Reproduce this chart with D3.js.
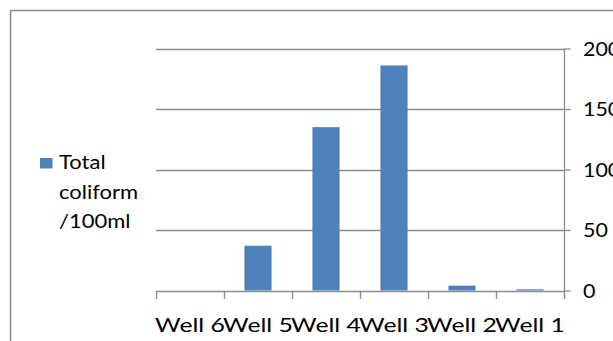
<!DOCTYPE html>
<html>
<head>
<meta charset="utf-8">
<script src="https://cdn.jsdelivr.net/npm/d3@7"></script>
<style>
  html, body { margin: 0; padding: 0; background: #fff; overflow: hidden; }
  svg { display: block; }
  text { font-family: Lato, "Open Sans", sans-serif; fill: #000; }
</style>
</head>
<body>
<svg id="chart" width="613" height="341"></svg>
<script>
// Total coliform counts per well
const categories = ["Well 6", "Well 5", "Well 4", "Well 3", "Well 2", "Well 1"];
const coliform = [0, 37, 135, 186, 4, 1];
const yTicks = [0, 50, 100, 150, 200];
const seriesName = ["Total", "coliform", "/100ml"];

const W = 613, H = 341;
const plot = { left: 156, right: 564, top: 48.5, bottom: 290.5 };
const SX_CAT = 1.24;      // horizontal stretch for category labels
const SX_TXT = 1.1;       // horizontal stretch for other text
const gray = "#8b8b8b";
const barColor = "#4f81bd";

const svg = d3.select("#chart");

// chart area frame (top and left edges)
svg.append("path")
  .attr("d", `M10.5,${H} V10.5 H${W}`)
  .attr("fill", "none")
  .attr("stroke", gray)
  .attr("stroke-width", 1.5);

const x = d3.scaleBand()
  .domain(categories)
  .range([plot.left, plot.right])
  .paddingInner(0.6)
  .paddingOuter(0.3);

const y = d3.scaleLinear()
  .domain([0, 200])
  .range([plot.bottom, plot.top]);

// horizontal gridlines
svg.append("g")
  .selectAll("line")
  .data(yTicks)
  .join("line")
  .attr("x1", plot.left)
  .attr("x2", plot.right)
  .attr("y1", d => Math.round(y(d)) + 0.5)
  .attr("y2", d => Math.round(y(d)) + 0.5)
  .attr("stroke", gray)
  .attr("stroke-width", 1.3);

// bars
svg.append("g")
  .selectAll("rect")
  .data(categories.map((c, i) => ({ c, v: coliform[i] })))
  .join("rect")
  .attr("x", d => x(d.c))
  .attr("width", x.bandwidth())
  .attr("y", d => y(d.v))
  .attr("height", d => y(0) - y(d.v))
  .attr("fill", barColor);

// value axis on the right
const yAxis = svg.append("g")
  .attr("transform", `translate(${plot.right + 0.5},0)`)
  .call(d3.axisRight(y).tickValues(yTicks).tickSize(6).tickSizeOuter(0));
yAxis.select(".domain").attr("stroke", gray).attr("stroke-width", 1.3)
  .attr("d", `M0,${plot.top} V${plot.bottom + 8}`);
yAxis.selectAll(".tick line").attr("stroke", gray).attr("stroke-width", 1.3).attr("x1", 0);
yAxis.selectAll(".tick text")
  .attr("x", 18.5 / SX_TXT)
  .attr("dy", "0.35em")
  .attr("transform", `scale(${SX_TXT},1)`)
  .style("font-size", "19.5px")
  .style("font-family", "Lato, 'Open Sans', sans-serif")
  .attr("fill", "#000");

// category axis: boundary ticks
const x0 = x.range()[0];
const boundaries = d3.range(categories.length + 1).map(i => x0 + i * x.step());
svg.append("g")
  .selectAll("line")
  .data(boundaries)
  .join("line")
  .attr("x1", d => Math.round(d) + 0.5)
  .attr("x2", d => Math.round(d) + 0.5)
  .attr("y1", Math.round(y(0)))
  .attr("y2", Math.round(y(0)) + 8)
  .attr("stroke", gray)
  .attr("stroke-width", 1.3);

// category labels
const xAxis = svg.append("g")
  .attr("transform", `translate(0,${plot.bottom})`)
  .call(d3.axisBottom(x).tickSize(0).tickPadding(0));
xAxis.select(".domain").remove();
xAxis.selectAll(".tick text")
  .attr("y", 0)
  .attr("dy", 0)
  .attr("transform", `translate(0,${332 - plot.bottom}) scale(${SX_CAT},1)`)
  .style("font-size", "20px")
  .style("font-family", "Lato, 'Open Sans', sans-serif")
  .attr("fill", "#000");

// legend
const legend = svg.append("g");
legend.append("rect")
  .attr("x", 40).attr("y", 158)
  .attr("width", 12.5).attr("height", 10.5)
  .attr("fill", barColor);
legend.selectAll("text")
  .data(seriesName)
  .join("text")
  .attr("transform", (d, i) => `translate(59,${169 + i * 29.7}) scale(${SX_TXT},1)`)
  .style("font-size", "20px")
  .text(d => d);
</script>
</body>
</html>
